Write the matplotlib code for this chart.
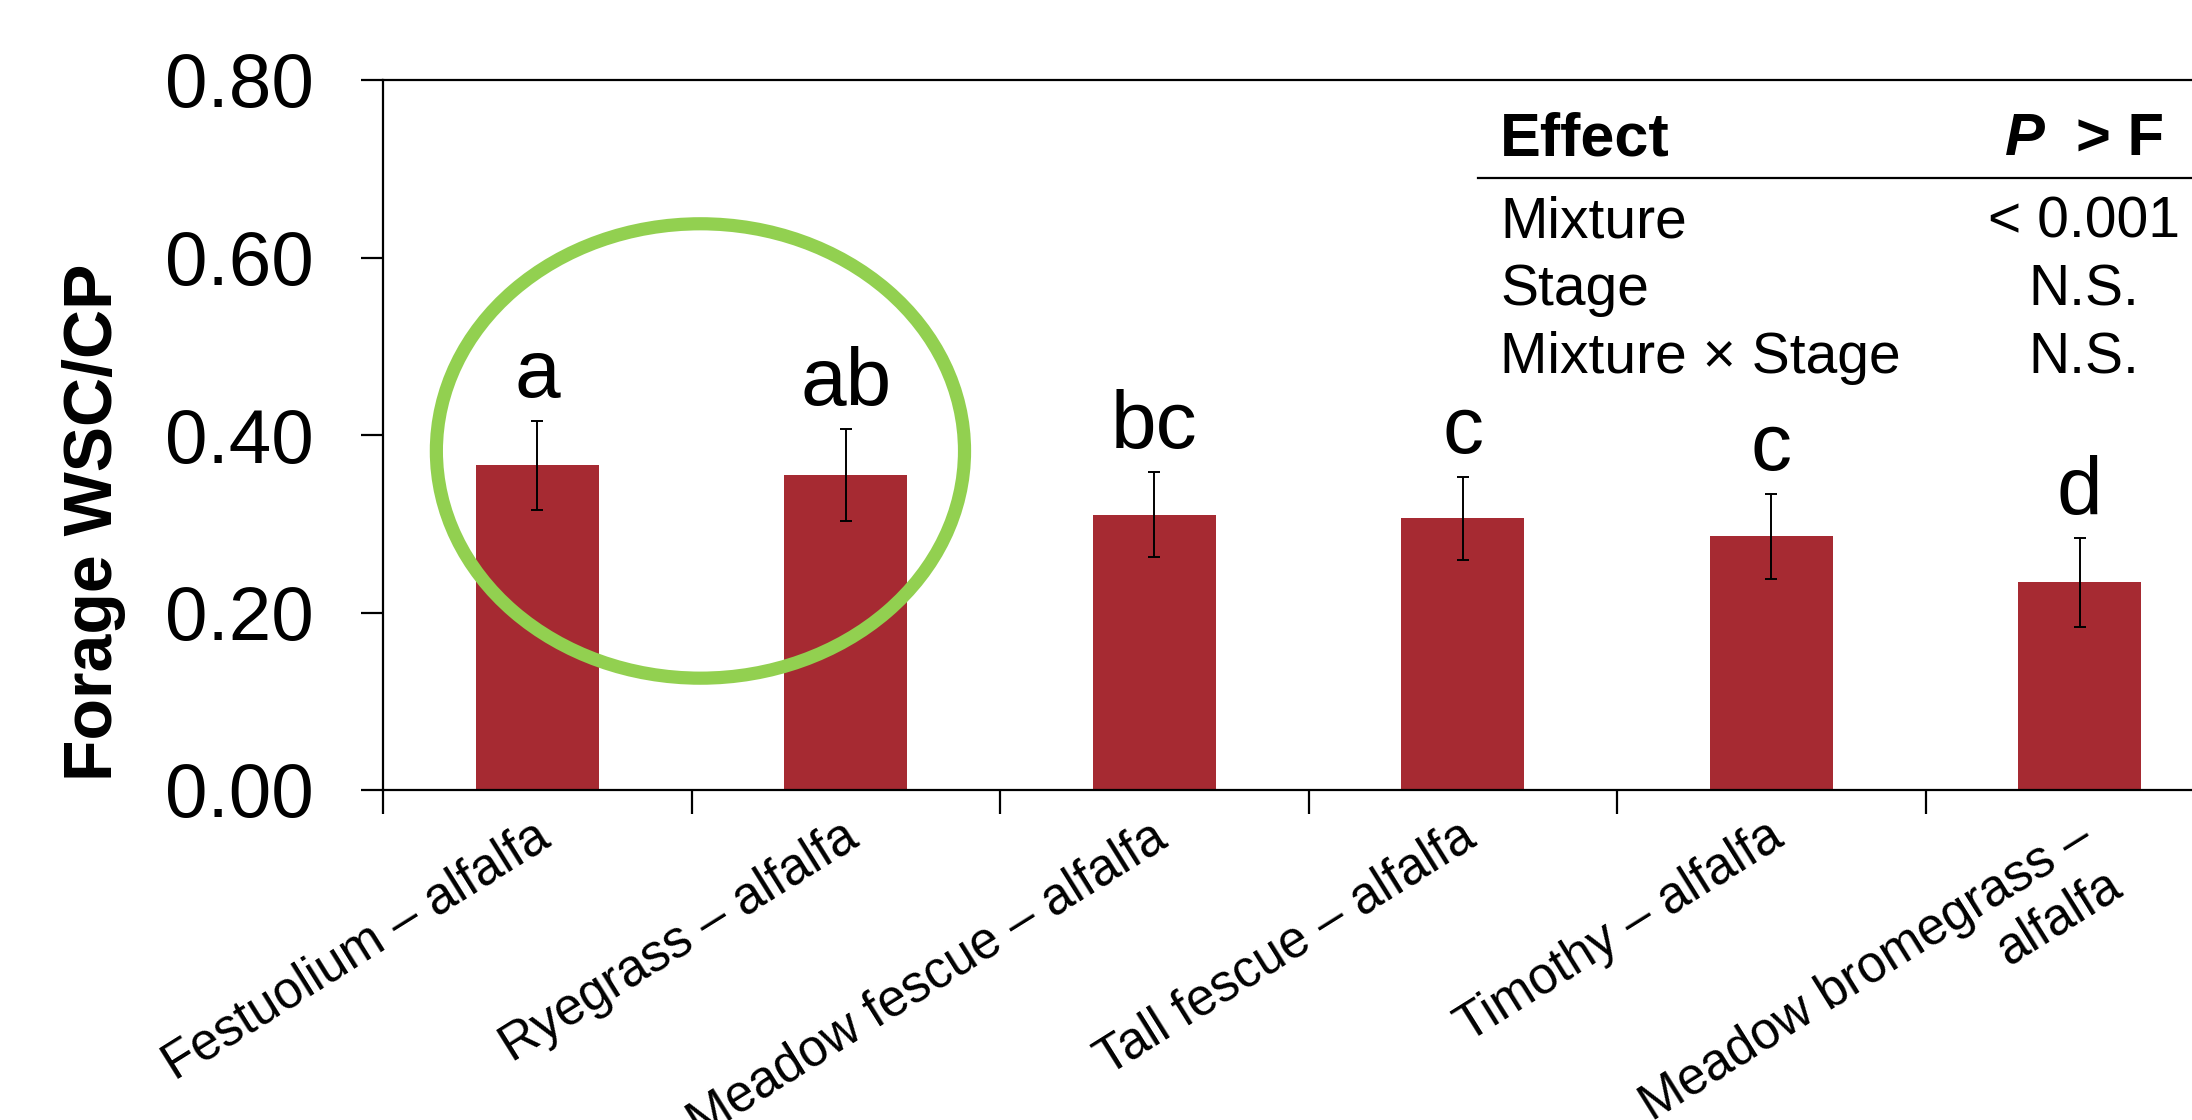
import matplotlib
matplotlib.use("Agg")
import matplotlib.pyplot as plt
import matplotlib.transforms as mtransforms
from matplotlib.patches import Ellipse
import numpy as np

plt.rcParams["font.family"] = ["Liberation Sans", "DejaVu Sans"]

mixtures = ["Festuolium – alfalfa", "Ryegrass – alfalfa", "Meadow fescue – alfalfa",
            "Tall fescue – alfalfa", "Timothy – alfalfa", "Meadow bromegrass –\nalfalfa"]
wsc_cp = [0.366, 0.355, 0.310, 0.306, 0.286, 0.234]
sem = [0.050, 0.052, 0.048, 0.047, 0.048, 0.050]
letters = ["a", "ab", "bc", "c", "c", "d"]

effects = ["Mixture", "Stage", "Mixture × Stage"]
p_values = ["< 0.001", "N.S.", "N.S."]

W, H = 2192, 1120
fig = plt.figure(figsize=(W / 100, H / 100), dpi=100)
# axes runs a bit past the right edge, like the original slide
ax = fig.add_axes([383 / W, 1 - 790 / H, 1851 / W, 710 / H])

x = np.arange(len(mixtures))
ax.bar(x, wsc_cp, width=0.40, color="#A62A32", zorder=2)
ax.errorbar(x, wsc_cp, yerr=sem, fmt="none", ecolor="black", elinewidth=1.4,
            capsize=4.5, capthick=1.4, zorder=3)

for xi, v, e, lab in zip(x, wsc_cp, sem, letters):
    ax.text(xi, v + e + 0.027, lab, ha="center", va="baseline", fontsize=59)

ax.set_xlim(-0.5, len(mixtures) - 0.5)
ax.set_ylim(0, 0.8)
ax.set_yticks([0, 0.2, 0.4, 0.6, 0.8])
ax.set_yticklabels(["0.00", "0.20", "0.40", "0.60", "0.80"], fontsize=55)
ax.tick_params(axis="y", direction="out", length=16, width=1.6, pad=34)

ax.set_xticks(x)
ax.set_xticklabels(mixtures, fontsize=37, rotation=32, ha="right",
                   rotation_mode="anchor", multialignment="right")
ax.set_xticks(np.arange(-0.5, len(mixtures), 1), minor=True)
ax.tick_params(axis="x", which="major", length=0, pad=16)
ax.tick_params(axis="x", which="minor", direction="out", length=17, width=1.6)
shift = mtransforms.ScaledTranslation(-5 / 100, 0, fig.dpi_scale_trans)
for lbl in ax.get_xticklabels():
    lbl.set_transform(lbl.get_transform() + shift)

for s in ax.spines.values():
    s.set_linewidth(1.6)

# green ring around the first two bars
ring = Ellipse((0.529, 0.382), 1.712, 0.512, fill=False, edgecolor="#92D050",
               linewidth=9.5, zorder=4, clip_on=False)
ax.add_patch(ring)

fig.text(112 / W, 1 - 522 / H, "Forage WSC/CP", rotation=90, rotation_mode="anchor",
         ha="center", va="baseline", fontsize=49, fontweight="bold")

# effects table
fig.text(1500 / W, 1 - 155 / H, "Effect", fontsize=44, fontweight="bold", va="baseline")
fig.text(2005 / W, 1 - 155 / H, "P", fontsize=43, fontweight="bold", style="italic", va="baseline")
fig.text(2164 / W, 1 - 155 / H, "> F", fontsize=43, fontweight="bold", ha="right", va="baseline")
fig.add_artist(plt.Line2D([1478 / W, 1], [1 - 178 / H] * 2, color="black", lw=1.6))
for i, (eff, p) in enumerate(zip(effects, p_values)):
    yy = 1 - (237 + 68 * i) / H
    fig.text(1500 / W, yy, eff, fontsize=41, va="baseline")
    fig.text(2084 / W, yy, p, fontsize=41, ha="center", va="baseline")

fig.savefig("out.png", dpi=100)
